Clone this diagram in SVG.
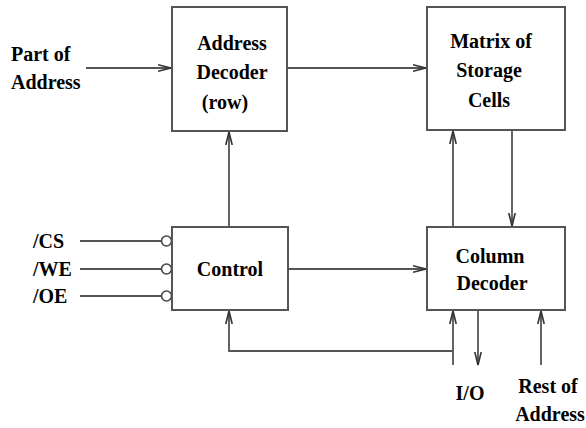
<svg xmlns="http://www.w3.org/2000/svg" width="586" height="428" viewBox="0 0 586 428">
<style>
.box{fill:#fff;stroke:#555;stroke-width:2}
.ln{fill:none;stroke:#555;stroke-width:1.8}
.t{font-family:"Liberation Serif","Times New Roman",serif;font-weight:bold;font-size:20px;fill:#000}
.c{text-anchor:middle}
.bub{fill:#fff;stroke:#444;stroke-width:1.6}
</style>
<defs>
<marker id="ar" viewBox="0 0 14 8" refX="13" refY="4" markerWidth="14" markerHeight="8" markerUnits="userSpaceOnUse" orient="auto">
<path d="M0,0.8 L13,4 L0,7.2" fill="none" stroke="#333" stroke-width="1.6"/>
</marker>
</defs>
<rect width="586" height="428" fill="#fff"/>
<g id="connectors">
<line class="ln" x1="86" y1="68" x2="171" y2="68" marker-end="url(#ar)"/>
<line class="ln" x1="287" y1="68" x2="426" y2="68" marker-end="url(#ar)"/>
<line class="ln" x1="229" y1="227" x2="229" y2="132" marker-end="url(#ar)"/>
<line class="ln" x1="453" y1="227" x2="453" y2="131" marker-end="url(#ar)"/>
<line class="ln" x1="512" y1="130" x2="512" y2="226" marker-end="url(#ar)"/>
<line class="ln" x1="288" y1="269" x2="426" y2="269" marker-end="url(#ar)"/>
<line class="ln" x1="80" y1="241" x2="161" y2="241"/>
<line class="ln" x1="80" y1="269" x2="161" y2="269"/>
<line class="ln" x1="80" y1="296" x2="161" y2="296"/>
<circle class="bub" cx="166.5" cy="241" r="5"/>
<circle class="bub" cx="166.5" cy="269" r="5"/>
<circle class="bub" cx="166.5" cy="296" r="5"/>
<polyline class="ln" points="453,351 229,351 229,311" marker-end="url(#ar)"/>
<line class="ln" x1="453" y1="365" x2="453" y2="311" marker-end="url(#ar)"/>
<line class="ln" x1="478" y1="310" x2="478" y2="365" marker-end="url(#ar)"/>
<line class="ln" x1="541" y1="365" x2="541" y2="311" marker-end="url(#ar)"/>
</g>
<g id="address-decoder">
<rect class="box" x="172" y="7" width="115" height="124"/>
<text class="t c" x="232" y="50">Address</text>
<text class="t c" x="232" y="79">Decoder</text>
<text class="t c" x="225" y="109">(row)</text>
</g>
<g id="matrix">
<rect class="box" x="427" y="7" width="138" height="123"/>
<text class="t c" x="491" y="48">Matrix of</text>
<text class="t c" x="489" y="77">Storage</text>
<text class="t c" x="489" y="107">Cells</text>
</g>
<g id="control">
<rect class="box" x="172" y="227" width="116" height="83"/>
<text class="t c" x="230" y="276">Control</text>
</g>
<g id="column-decoder">
<rect class="box" x="427" y="227" width="138" height="83"/>
<text class="t c" x="490" y="263">Column</text>
<text class="t c" x="492" y="290">Decoder</text>
</g>
<g id="labels">
<text class="t" x="11" y="61">Part of</text>
<text class="t" x="11" y="89">Address</text>
<text class="t" x="33" y="248">/CS</text>
<text class="t" x="33" y="276">/WE</text>
<text class="t" x="33" y="303">/OE</text>
<text class="t c" x="470" y="400">I/O</text>
<text class="t c" x="548" y="393">Rest of</text>
<text class="t c" x="550" y="421">Address</text>
</g>
</svg>
